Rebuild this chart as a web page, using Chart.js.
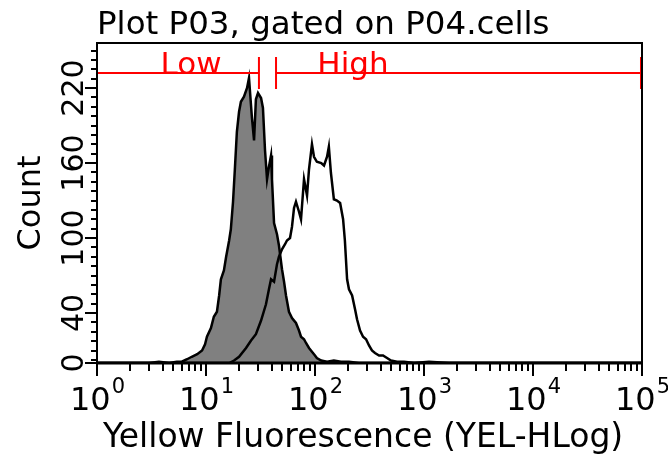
<!DOCTYPE html>
<html>
<head>
<meta charset="utf-8">
<script src="https://cdn.jsdelivr.net/npm/chart.js@4.4.1/dist/chart.umd.min.js"></script>
<style>
  html, body { margin: 0; padding: 0; background: #fff; }
  #wrap { width: 668px; height: 457px; }
</style>
</head>
<body>
<div id="wrap"><canvas id="histo" width="668" height="457"></canvas></div>
<script>
// control population (grey, filled)
const fluorControl = [1, 2.0, 3.0, 3.7, 4.6, 5.4, 6.0, 6.7, 7.4, 8.3, 9.2, 9.8, 10.2, 11.1, 11.8,
  12.6, 13.2, 13.7, 14.6, 15.3, 16.3, 16.9, 17.7, 18.4, 19.2, 20.1, 20.9, 22.3, 23.8, 24.8,
  26.4, 27.6, 28.7, 30.0, 32.0, 33.3, 34.8, 36.3, 37.8, 39.5, 40.3, 42.1, 44.8, 46.7, 49.8,
  52.0, 54.2, 57.7, 61.5, 66.9, 71.3, 74.4, 79.3, 82.7, 88.1, 93.8, 100, 104, 114, 129,
  149, 173, 205, 253, 400, 1000, 100000];
const countControl = [0, 0, 0, 1, 0, 1, 1, 3, 5, 7, 10, 15, 21, 28, 37,
  41, 54, 67, 74, 85, 98, 107, 129, 155, 185, 201, 209, 213, 220, 228,
  196, 178, 211, 216, 212, 204, 170, 147, 157, 166, 147, 112, 103, 94, 75,
  65, 54, 41, 36, 32, 26, 21, 19, 16, 12, 9, 6, 4, 2, 1,
  2, 1, 1, 0, 0, 0, 0];

// stained population (outline only)
const fluorSample = [1, 14.6, 16.3, 18.1, 20.1, 23.3, 25.9, 28.7, 32.0, 35.5, 37.8, 39.5, 42.1, 44.8, 46.7,
  49.8, 53.1, 55.3, 59.0, 61.5, 64.2, 66.9, 71.3, 74.4, 79.3, 84.5, 88.1, 93.8, 97.9, 104,
  114, 121, 129, 134, 140, 149, 159, 170, 181, 188, 197, 205, 219, 233, 243,
  259, 276, 294, 313, 333, 355, 387, 421, 458, 498, 565, 656, 810, 1110, 1700, 100000];
const countSample = [0, 0, 0, 2, 5, 12, 18, 23, 34, 47, 59, 67, 65, 79, 85,
  91, 95, 98, 100, 109, 124, 129, 121, 115, 147, 134, 155, 175, 165, 161,
  160, 158, 165, 173, 152, 131, 130, 128, 115, 98, 67, 59, 54, 43, 35,
  26, 21, 19, 14, 10, 8, 6, 6, 4, 2, 1, 1, 0, 1, 0, 0];

// axes
const xDecades = [0, 1, 2, 3, 4, 5];
const yTickLabels = [0, 40, 100, 160, 220];
const yMinorStep = 7.5;
const yMax = 256;

// marker gates
const gateNames = ['Low', 'High'];
const gateFrom = [1, 43.9];
const gateTo = [30.6, 97900];
const gateLabelAt = [7.3, 223];
const gateLevel = 232;

const toPoints = (xs, ys) => xs.map((v, i) => ({ x: v, y: ys[i] }));

const FONT = '"DejaVu Sans", Verdana, sans-serif';

const cytoAxes = {
  id: 'cytoAxes',
  afterDatasetsDraw(chart) {
    const { ctx, chartArea: a, scales: { x, y } } = chart;
    ctx.save();

    // gates
    ctx.strokeStyle = '#ff0000';
    ctx.fillStyle = '#ff0000';
    ctx.lineWidth = 2;
    ctx.font = '31px ' + FONT;
    ctx.textAlign = 'center';
    ctx.textBaseline = 'alphabetic';
    gateNames.forEach((name, i) => {
      const x0 = x.getPixelForValue(gateFrom[i]);
      const x1 = x.getPixelForValue(gateTo[i]);
      const gy = y.getPixelForValue(gateLevel);
      ctx.beginPath();
      ctx.moveTo(x0, gy); ctx.lineTo(x1, gy);
      ctx.moveTo(x0, gy - 16); ctx.lineTo(x0, gy + 16);
      ctx.moveTo(x1, gy - 16); ctx.lineTo(x1, gy + 16);
      ctx.stroke();
      ctx.fillText(name, x.getPixelForValue(gateLabelAt[i]), gy + 1);
    });

    // frame
    ctx.strokeStyle = '#000';
    ctx.fillStyle = '#000';
    ctx.lineWidth = 2;
    ctx.strokeRect(a.left, a.top, a.right - a.left, a.bottom - a.top);
    ctx.lineWidth = 3;
    ctx.beginPath();
    ctx.moveTo(a.left - 1, a.bottom); ctx.lineTo(a.right + 1, a.bottom);
    ctx.stroke();

    // x ticks, log decades
    ctx.lineWidth = 2;
    ctx.beginPath();
    for (let d = xDecades[0]; d < xDecades[xDecades.length - 1]; d++) {
      for (let m = 1; m <= 9; m++) {
        const px = Math.round(x.getPixelForValue(m * Math.pow(10, d)));
        const len = m === 1 ? 13 : 8;
        ctx.moveTo(px, a.bottom); ctx.lineTo(px, a.bottom + len);
      }
    }
    const pEnd = Math.round(x.getPixelForValue(Math.pow(10, xDecades[xDecades.length - 1])));
    ctx.moveTo(pEnd, a.bottom); ctx.lineTo(pEnd, a.bottom + 13);
    ctx.stroke();

    // x labels, 10 with superscript exponent
    ctx.textAlign = 'left';
    xDecades.forEach(e => {
      const px = x.getPixelForValue(Math.pow(10, e));
      ctx.font = '32px ' + FONT;
      const w1 = ctx.measureText('10').width;
      ctx.font = '21px ' + FONT;
      const w2 = ctx.measureText(String(e)).width;
      const start = px - (w1 + w2) / 2;
      ctx.font = '32px ' + FONT;
      ctx.fillText('10', start, 410);
      ctx.font = '21px ' + FONT;
      ctx.fillText(String(e), start + w1 + 1, 393);
    });

    // y ticks
    ctx.beginPath();
    for (let v = yTickLabels[yTickLabels.length - 1] % yMinorStep; v <= yMax; v += yMinorStep) {
      const py = Math.round(y.getPixelForValue(v));
      ctx.moveTo(a.left, py); ctx.lineTo(a.left - 6, py);
    }
    yTickLabels.forEach(v => {
      const py = Math.round(y.getPixelForValue(v));
      ctx.moveTo(a.left, py); ctx.lineTo(a.left - 12, py);
    });
    ctx.stroke();

    // y labels, rotated
    ctx.font = '30px ' + FONT;
    ctx.textAlign = 'center';
    yTickLabels.forEach(v => {
      ctx.save();
      ctx.translate(a.left - 14, y.getPixelForValue(v));
      ctx.rotate(-Math.PI / 2);
      ctx.fillText(String(v), 0, 0);
      ctx.restore();
    });

    // titles
    ctx.textAlign = 'left';
    ctx.font = '32.5px ' + FONT;
    ctx.fillText('Plot P03, gated on P04.cells', a.left, 34);
    ctx.font = '33px ' + FONT;
    ctx.fillText('Yellow Fluorescence (YEL-HLog)', 103, 447);
    ctx.font = '32px ' + FONT;
    ctx.save();
    ctx.translate(40, (a.top + a.bottom) / 2);
    ctx.rotate(-Math.PI / 2);
    ctx.textAlign = 'center';
    ctx.fillText('Count', 0, 0);
    ctx.restore();

    ctx.restore();
  }
};

new Chart(document.getElementById('histo'), {
  type: 'line',
  data: {
    datasets: [
      {
        label: 'Sample',
        data: toPoints(fluorSample, countSample),
        borderColor: '#000',
        borderWidth: 2.5,
        fill: false,
        order: 1
      },
      {
        label: 'Control',
        data: toPoints(fluorControl, countControl),
        borderColor: '#000',
        backgroundColor: '#808080',
        borderWidth: 2.5,
        fill: 'origin',
        order: 2
      }
    ]
  },
  options: {
    responsive: false,
    animation: false,
    devicePixelRatio: 1,
    parsing: false,
    layout: { padding: { left: 97, right: 26, top: 43, bottom: 94 } },
    elements: { point: { radius: 0 }, line: { tension: 0 } },
    plugins: { legend: { display: false }, title: { display: false }, tooltip: { enabled: false } },
    scales: {
      x: { type: 'logarithmic', min: 1, max: 100000, display: false },
      y: { min: 0, max: yMax, display: false }
    }
  },
  plugins: [cytoAxes]
});
</script>
</body>
</html>
